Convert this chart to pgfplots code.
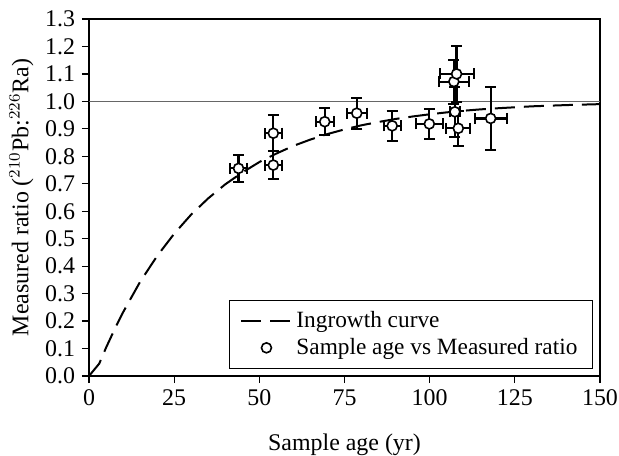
\documentclass[border=0pt]{standalone}
\usepackage{fontspec}
\setmainfont{Liberation Serif}
\usepackage{pgfplots}
\pgfplotsset{compat=1.18}

\pgfplotsset{
    longline legend/.style={legend image code/.code={\draw[##1] (0bp,0bp) -- (25bp,0bp);}},
    centremark legend/.style={legend image code/.code={\draw[mark repeat=2,mark phase=2,##1]
        plot coordinates {(0bp,0bp) (12.5bp,0bp) (25bp,0bp)};}},
}

\begin{document}
\begin{tikzpicture}
\begin{axis}[
    scale only axis,
    width=255.5bp, height=178.5bp,
    xmin=0, xmax=150,
    ymin=0, ymax=1.3,
    xtick={0,25,50,75,100,125,150},
    ytick={0,0.1,0.2,0.3,0.4,0.5,0.6,0.7,0.8,0.9,1.0,1.1,1.2,1.3},
    yticklabel style={/pgf/number format/fixed,/pgf/number format/fixed zerofill,/pgf/number format/precision=1},
    /pgf/number format/assume math mode=true,
    tick label style={font=\fontsize{12}{14}\selectfont},
    label style={font=\fontsize{12}{14}\selectfont},
    tick align=outside,
    tick pos=left,
    major tick length=3.5bp,
    tick style={black, line width=0.6bp},
    axis line style={black, line width=0.7bp},
    xlabel={Sample age (yr)},
    ylabel={Measured ratio ($^{210}$Pb:$^{226}$Ra)},
    xlabel style={yshift=-7bp},
    ylabel style={yshift=-1bp},
    legend style={at={(0.9863,0.0196)}, anchor=south east, draw=black, line width=0.6bp,
        font=\fontsize{11.7}{13.3}\selectfont, cells={anchor=west},
        inner xsep=5.5bp, inner ysep=3.5bp},
]

\addplot[gray!80!black, line width=0.6bp, forget plot] coordinates {(0,1) (150,1)};

\addplot[black, line width=1bp, dash pattern=on 10bp off 4.5bp, longline legend]
coordinates {
    (0,0) (3,0.045) (5,0.103) (8,0.183) (10,0.232) (15,0.343) (20,0.437)
    (25,0.518) (30,0.588) (35,0.647) (40,0.698) (45,0.741) (50,0.779)
    (55,0.810) (60,0.838) (65,0.861) (70,0.881) (75,0.898) (80,0.913)
    (85,0.925) (90,0.936) (95,0.945) (100,0.953) (105,0.960) (110,0.966)
    (115,0.971) (120,0.975) (130,0.982) (140,0.9865) (150,0.990)
};
\addlegendentry{Ingrowth curve}

\addplot[only marks, mark=*, mark size=2.5bp, centremark legend,
    mark options={fill=white, draw=black, line width=0.8bp},
    error bars/.cd, x dir=both, x explicit, y dir=both, y explicit,
    error bar style={black, line width=1.1bp},
    error mark options={rotate=90, black, line width=1bp, mark size=2.75bp}]
table[x=x, y=y, x error=ex, y error=ey] {
x      y      ex    ey
43.9   0.756  2.5   0.050
54.1   0.884  2.5   0.066
54.1   0.768  2.5   0.050
69.2   0.926  2.7   0.050
78.6   0.957  3.0   0.057
89.0   0.911  2.5   0.055
99.9   0.918  4.0   0.056
107.1  1.072  4.5   0.080
107.9  1.100  5.0   0.103
107.4  0.962  1.5   0.090
108.4  0.902  3.5   0.064
117.9  0.938  4.7   0.115
};
\addlegendentry{Sample age vs Measured ratio}

\end{axis}
\pgfresetboundingbox
\useasboundingbox ([shift={(-44.5bp,-40bp)}]current axis.south west)
    rectangle ([shift={(9.5bp,9.5bp)}]current axis.north east);
\end{tikzpicture}
\end{document}
